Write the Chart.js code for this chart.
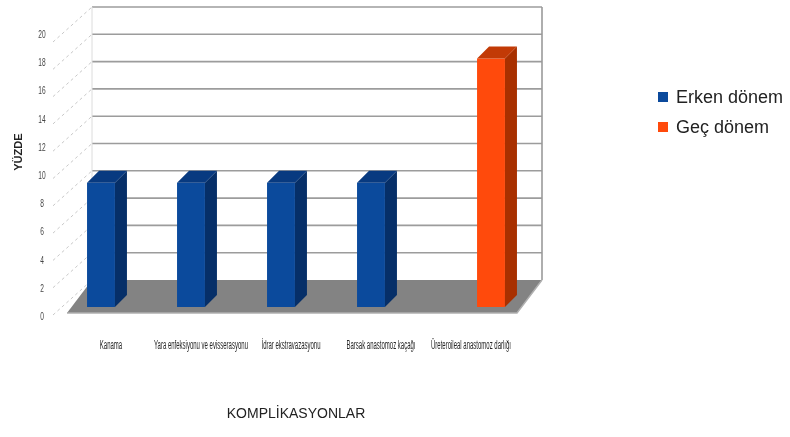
<!DOCTYPE html>
<html>
<head>
<meta charset="utf-8">
<script src="https://cdn.jsdelivr.net/npm/chart.js@4.4.0/dist/chart.umd.min.js"></script>
<style>
    html, body { margin: 0; padding: 0; background: #fff; }
    #wrap { position: relative; width: 790px; height: 437px; }
    #legend { position: absolute; left: 658px; top: 84px; font-family: 'Liberation Sans', Arial, sans-serif; font-size: 18px; color: #222; }
    #legend div { height: 30px; line-height: 26px; white-space: nowrap; }
    #legend span.box { display: inline-block; width: 10px; height: 10px; margin-right: 8px; vertical-align: 1px; }
</style>
</head>
<body>
<div id="wrap">
    <canvas id="chart" width="790" height="437"></canvas>
    <div id="legend"></div>
</div>
<script>
// Data
const categories = [
    'Kanama',
    'Yara enfeksiyonu ve evisserasyonu',
    'İdrar ekstravazasyonu',
    'Barsak anastomoz kaçağı',
    'Üreteroileal anastomoz darlığı'
];
const erkenDonem = [9.1, 9.1, 9.1, 9.1, null];
const gecDonem = [null, null, null, null, 18.2];
const yTicks = [0, 2, 4, 6, 8, 10, 12, 14, 16, 18, 20];

const seriesNames = ['Erken dönem', 'Geç dönem'];
const frontColors = ['#0b4a9c', '#ff4a0c'];
const sideColors = ['#062f68', '#a83000'];
const topColors = ['#083a80', '#c23a06'];

// 3D look: offset of the back wall and depth of bars
const WALL_DX = 21, WALL_DY = -27;
const BAR_D = 12;
const NARROW = 0.5; // horizontal squeeze of the small labels

const threeD = {
    id: 'threeD',
    beforeDatasetsDraw(chart) {
        const ctx = chart.ctx;
        const a = chart.chartArea;
        const y = chart.scales.y;
        const y0 = y.getPixelForValue(0);
        const yTop = y.getPixelForValue(20);
        ctx.save();

        // left wall dashed guides
        ctx.strokeStyle = '#c8c8c8';
        ctx.lineWidth = 1;
        ctx.setLineDash([3, 3]);
        yTicks.forEach(v => {
            const py = y.getPixelForValue(v);
            ctx.beginPath();
            ctx.moveTo(a.left - 18, py + 8);
            ctx.lineTo(a.left + WALL_DX, py + WALL_DY);
            ctx.stroke();
        });
        ctx.setLineDash([]);

        // back wall gridlines
        ctx.strokeStyle = '#9c9c9c';
        ctx.lineWidth = 1.6;
        yTicks.forEach(v => {
            if (v === 0) return;
            const py = y.getPixelForValue(v) + WALL_DY;
            ctx.beginPath();
            ctx.moveTo(a.left + WALL_DX, py);
            ctx.lineTo(a.right + WALL_DX, py);
            ctx.stroke();
        });
        // back wall right edge and left edge
        ctx.strokeStyle = '#9a9a9a';
        ctx.beginPath();
        ctx.moveTo(a.right + WALL_DX, yTop + WALL_DY);
        ctx.lineTo(a.right + WALL_DX, y0 + WALL_DY);
        ctx.stroke();
        ctx.strokeStyle = '#dcdcdc';
        ctx.lineWidth = 1;
        ctx.beginPath();
        ctx.moveTo(a.left + WALL_DX, yTop + WALL_DY);
        ctx.lineTo(a.left + WALL_DX, y0 + WALL_DY);
        ctx.stroke();

        // floor
        ctx.fillStyle = '#838383';
        ctx.beginPath();
        ctx.moveTo(a.left - 4, y0 + 6);
        ctx.lineTo(a.right - 4, y0 + 6);
        ctx.lineTo(a.right + WALL_DX, y0 + WALL_DY);
        ctx.lineTo(a.left + WALL_DX, y0 + WALL_DY);
        ctx.closePath();
        ctx.fill();
        ctx.strokeStyle = '#b0b0b0';
        ctx.lineWidth = 1.5;
        ctx.beginPath();
        ctx.moveTo(a.left - 4, y0 + 6);
        ctx.lineTo(a.right - 4, y0 + 6);
        ctx.lineTo(a.right + WALL_DX, y0 + WALL_DY);
        ctx.stroke();
        ctx.restore();
    },
    afterDatasetsDraw(chart) {
        const ctx = chart.ctx;
        ctx.save();
        chart.data.datasets.forEach((ds, di) => {
            chart.getDatasetMeta(di).data.forEach((bar, i) => {
                if (ds.data[i] === null) return;
                const half = bar.width / 2;
                const r = bar.x + half, l = bar.x - half;
                // side face
                ctx.fillStyle = sideColors[di];
                ctx.beginPath();
                ctx.moveTo(r, bar.y);
                ctx.lineTo(r + BAR_D, bar.y - BAR_D);
                ctx.lineTo(r + BAR_D, bar.base - BAR_D);
                ctx.lineTo(r, bar.base);
                ctx.closePath();
                ctx.fill();
                // top face
                ctx.fillStyle = topColors[di];
                ctx.beginPath();
                ctx.moveTo(l, bar.y);
                ctx.lineTo(r, bar.y);
                ctx.lineTo(r + BAR_D, bar.y - BAR_D);
                ctx.lineTo(l + BAR_D, bar.y - BAR_D);
                ctx.closePath();
                ctx.fill();
            });
        });
        ctx.restore();
    },
    afterDraw(chart) {
        // condensed category and value labels, placed by the scales
        const ctx = chart.ctx;
        const a = chart.chartArea;
        const x = chart.scales.x;
        const y = chart.scales.y;
        ctx.save();
        ctx.font = "12px 'Liberation Sans', Arial, sans-serif";
        ctx.fillStyle = '#262626';
        ctx.textAlign = 'center';
        ctx.textBaseline = 'middle';
        categories.forEach((c, i) => {
            const px = x.getPixelForTick(i) - 5;
            ctx.save();
            ctx.translate(px, a.bottom + 39);
            ctx.scale(NARROW, 1);
            ctx.fillText(c, 0, 0);
            ctx.restore();
        });
        ctx.font = "11px 'Liberation Sans', Arial, sans-serif";
        ctx.fillStyle = '#444';
        yTicks.forEach(v => {
            const py = y.getPixelForValue(v) + 1 + (20 - v) * 0.45;
            ctx.save();
            ctx.translate(42, py);
            ctx.scale(0.6, 1);
            ctx.fillText(String(v), 0, 0);
            ctx.restore();
        });
        ctx.restore();
    }
};

const ctx = document.getElementById('chart').getContext('2d');
new Chart(ctx, {
    type: 'bar',
    data: {
        labels: categories,
        datasets: [
            { label: seriesNames[0], data: erkenDonem, backgroundColor: frontColors[0] },
            { label: seriesNames[1], data: gecDonem, backgroundColor: frontColors[1] }
        ]
    },
    options: {
        responsive: false,
        animation: false,
        devicePixelRatio: 1,
        layout: { padding: { left: 0, right: 269, top: 34, bottom: 0 } },
        categoryPercentage: 0.667,
        barPercentage: 0.93,
        plugins: {
            legend: { display: false },
            tooltip: { enabled: false }
        },
        scales: {
            x: {
                grid: { display: false, drawTicks: false },
                border: { display: false },
                ticks: { display: false },
                title: {
                    display: true,
                    text: 'KOMPLİKASYONLAR',
                    color: '#222',
                    padding: { top: 0, bottom: 14 },
                    font: { family: "'Liberation Sans', Arial, sans-serif", size: 14 }
                },
                afterFit: s => { s.height = 130; }
            },
            y: {
                min: 0,
                max: 20,
                grid: { display: false, drawTicks: false },
                border: { display: false },
                afterBuildTicks: s => { s.ticks = yTicks.map(v => ({ value: v })); },
                ticks: { display: false },
                title: {
                    display: true,
                    text: '            YÜZDE',
                    color: '#222',
                    padding: { top: 12, bottom: 0 },
                    font: { family: "'Liberation Sans', Arial, sans-serif", size: 11, weight: 'bold' }
                },
                afterFit: s => { s.width = 71; }
            }
        }
    },
    plugins: [threeD]
});

// legend as html
const legendEl = document.getElementById('legend');
seriesNames.forEach((name, i) => {
    const row = document.createElement('div');
    const box = document.createElement('span');
    box.className = 'box';
    box.style.background = frontColors[i];
    row.appendChild(box);
    row.appendChild(document.createTextNode(name));
    legendEl.appendChild(row);
});
</script>
</body>
</html>
